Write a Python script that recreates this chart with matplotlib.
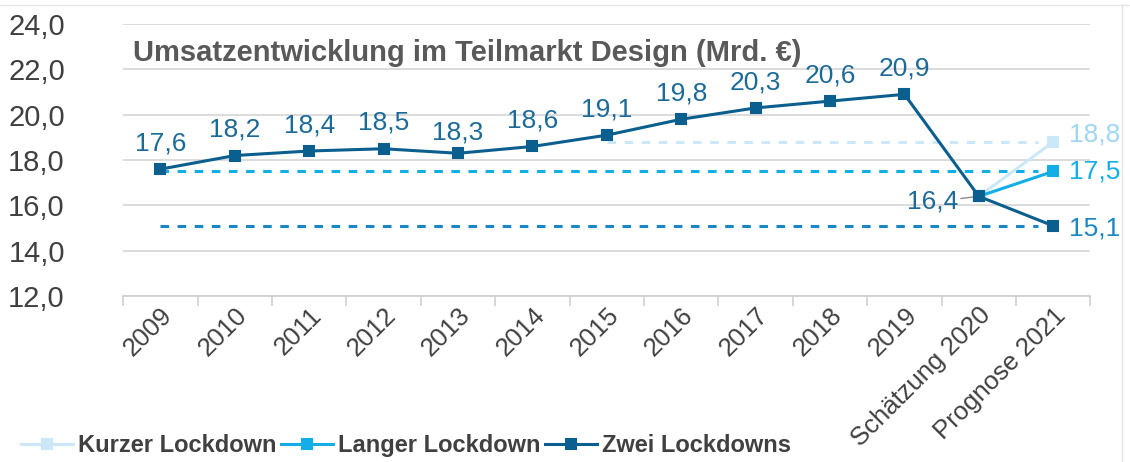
import matplotlib
matplotlib.use("Agg")
import matplotlib.pyplot as plt
from matplotlib.lines import Line2D
import numpy as np

plt.rcParams['font.family'] = ['Liberation Sans', 'DejaVu Sans']

categories = ['2009', '2010', '2011', '2012', '2013', '2014', '2015', '2016',
              '2017', '2018', '2019', 'Schätzung 2020', 'Prognose 2021']
zwei = [17.6, 18.2, 18.4, 18.5, 18.3, 18.6, 19.1, 19.8, 20.3, 20.6, 20.9, 16.4, 15.1]
langer = [None] * 11 + [16.4, 17.5]
kurzer = [None] * 11 + [16.4, 18.8]
y_ticks = [12.0, 14.0, 16.0, 18.0, 20.0, 22.0, 24.0]

c_zwei = '#0B5F8E'
c_zwei_dash = '#1A86C6'
c_langer = '#13AEE8'
c_kurzer = '#CBE7F8'
c_label = '#1C6A98'
c_text = '#404040'

fig = plt.figure(figsize=(11.3, 4.62), dpi=100)
ax = fig.add_axes([0.109, 0.359, 0.856, 0.589])

x = np.arange(len(categories))
xl = np.array([np.nan if v is None else v for v in langer], dtype=float)
xk = np.array([np.nan if v is None else v for v in kurzer], dtype=float)

# horizontal dashed reference lines for the 2021 scenarios
ax.hlines(kurzer[-1], 6, 11.8, colors=c_kurzer, linestyles=(0, (2.8, 2.8)), lw=2.2, zorder=2)
ax.hlines(langer[-1], 0, 11.8, colors=c_langer, linestyles=(0, (2.8, 2.8)), lw=2.2, zorder=2)
ax.hlines(zwei[-1], 0, 11.8, colors=c_zwei_dash, linestyles=(0, (2.8, 2.8)), lw=2.2, zorder=2)

mk = dict(marker='s', markersize=7, markeredgewidth=1.5)
ax.plot(x, xk, color=c_kurzer, lw=2.2, markerfacecolor=c_kurzer, markeredgecolor=c_kurzer,
        label='Kurzer Lockdown', zorder=3, **mk)
ax.plot(x, xl, color=c_langer, lw=2.2, markerfacecolor=c_langer, markeredgecolor=c_langer,
        label='Langer Lockdown', zorder=4, **mk)
ax.plot(x, zwei, color=c_zwei, lw=2.2, markerfacecolor=c_zwei, markeredgecolor=c_zwei,
        label='Zwei Lockdowns', zorder=5, **mk)

def fmt(v):
    return f'{v:.1f}'.replace('.', ',')

fs_lab = 19
for i, v in enumerate(zwei[:11]):
    dy = 6 if i == 4 else 10
    ax.annotate(fmt(v), (i, v), xytext=(0, dy), textcoords='offset points',
                ha='center', va='bottom', fontsize=fs_lab, color=c_label)
ax.annotate(fmt(zwei[11]), (11, zwei[11]), xytext=(-15, -4), textcoords='offset points',
            ha='right', va='center', fontsize=fs_lab, color=c_label,
            arrowprops=dict(arrowstyle='-', color='#8C8C8C', lw=1, shrinkA=0, shrinkB=2))
ax.annotate(fmt(kurzer[-1]), (12, kurzer[-1]), xytext=(11, 5), textcoords='offset points',
            ha='left', va='center', fontsize=fs_lab, color='#9FD6F3')
ax.annotate(fmt(langer[-1]), (12, langer[-1]), xytext=(11, 0), textcoords='offset points',
            ha='left', va='center', fontsize=fs_lab, color=c_langer)
ax.annotate(fmt(zwei[-1]), (12, zwei[-1]), xytext=(11, -2), textcoords='offset points',
            ha='left', va='center', fontsize=fs_lab, color=c_zwei_dash)

ax.set_xlim(-0.5, len(categories) - 0.5)
ax.set_ylim(12, 24)
ax.set_yticks(y_ticks)
ax.set_yticklabels([fmt(v) for v in y_ticks], fontsize=21, color=c_text)
ax.tick_params(axis='y', length=0, pad=42)

ax.set_xticks(x)
ax.set_xticklabels(categories, rotation=45, ha='right', rotation_mode='anchor',
                   fontsize=18.5, color=c_text)
ax.set_xticks(np.arange(-0.5, len(categories)), minor=True)
ax.tick_params(axis='x', which='major', length=0, pad=5)
ax.tick_params(axis='x', which='minor', length=7, color='#D0D0D0', width=1.2, direction='out')

ax.grid(axis='y', color='#D9D9D9', lw=1.3)
ax.set_axisbelow(True)
for s in ['top', 'right', 'left']:
    ax.spines[s].set_visible(False)
ax.spines['bottom'].set_color('#D0D0D0')
ax.spines['bottom'].set_linewidth(1.3)

ax.text(0.01, 0.895, 'Umsatzentwicklung im Teilmarkt Design (Mrd. €)', transform=ax.transAxes,
        fontsize=21, fontweight='bold', color='#595959', ha='left', va='center')

leg = fig.legend(loc='lower left', bbox_to_anchor=(0.0, -0.035), ncol=3, frameon=False,
                 handlelength=2.2, handletextpad=0.2, columnspacing=0.2,
                 prop={'size': 17, 'weight': 'bold'})
for t in leg.get_texts():
    t.set_color(c_text)

# thin frame lines of the screenshot
fig.add_artist(Line2D([0, 1], [0.99, 0.99], color='#E4E4E4', lw=1, transform=fig.transFigure))
fig.add_artist(Line2D([0.993, 0.993], [0, 0.99], color='#E4E4E4', lw=1, transform=fig.transFigure))

fig.savefig('out.png', dpi=100)
